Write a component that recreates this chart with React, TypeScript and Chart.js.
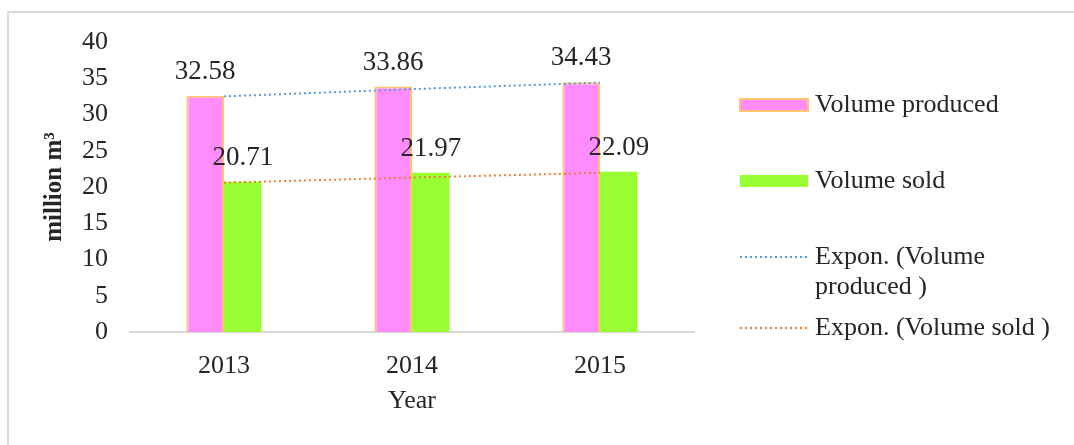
import { useEffect, useRef } from "react";
import { Chart, registerables } from "chart.js";

Chart.register(...registerables);

const categories = ["2013", "2014", "2015"];
const volumeProduced = [32.58, 33.86, 34.43];
const volumeSold = [20.71, 21.97, 22.09];
const trendProduced = [32.5, 33.5, 34.4];
const trendSold = [20.6, 21.3, 21.95];
const yMin = 0;
const yMax = 40;
const yStep = 5;
const legendLabels = [
  ["Volume produced"],
  ["Volume sold"],
  ["Expon. (Volume", "produced )"],
  ["Expon. (Volume sold )"],
];

const SERIF = "'Liberation Serif', 'Times New Roman', serif";
const TEXT = "#262626";
const PINK = "#ff8cff";
const PINK_BORDER = "#ffc46e";
const GREEN = "#99ff33";
const BLUE = "#5b9bd5";
const ORANGE = "#ed7d31";

const valueLabels = {
  id: "valueLabels",
  afterDatasetsDraw(chart: any) {
    const ctx = chart.ctx;
    ctx.save();
    ctx.font = `27px ${SERIF}`;
    ctx.fillStyle = TEXT;
    ctx.textAlign = "center";
    ctx.textBaseline = "middle";
    [0, 1].forEach((di) => {
      const meta = chart.getDatasetMeta(di);
      const data = chart.data.datasets[di].data as number[];
      meta.data.forEach((el: any, i: number) => {
        ctx.fillText(data[i].toFixed(2), el.x, el.y - 24);
      });
    });
    ctx.restore();
  },
};

const customLegend = {
  id: "customLegend",
  afterDraw(chart: any) {
    const ctx = chart.ctx;
    ctx.save();
    const bx = 740;
    const bw = 68;
    const tx = 815;
    const ys = [105, 181, 257, 328];
    ctx.font = `26px ${SERIF}`;
    ctx.fillStyle = TEXT;
    ctx.textAlign = "left";
    ctx.textBaseline = "middle";
    legendLabels.forEach((lines, i) => {
      const y = ys[i];
      ctx.save();
      if (i === 0) {
        ctx.fillStyle = PINK;
        ctx.fillRect(bx, y - 6, bw, 12);
        ctx.strokeStyle = PINK_BORDER;
        ctx.lineWidth = 2;
        ctx.strokeRect(bx, y - 6, bw, 12);
      } else if (i === 1) {
        ctx.fillStyle = GREEN;
        ctx.fillRect(bx, y - 6, bw, 12);
      } else {
        ctx.strokeStyle = i === 2 ? BLUE : ORANGE;
        ctx.lineWidth = 2;
        ctx.setLineDash([2, 3]);
        ctx.beginPath();
        ctx.moveTo(bx, y);
        ctx.lineTo(bx + bw, y);
        ctx.stroke();
      }
      ctx.restore();
      lines.forEach((t, li) => {
        ctx.fillText(t, tx, y + li * 30);
      });
    });
    ctx.restore();
  },
};

export default function App() {
  const ref = useRef<HTMLCanvasElement | null>(null);

  useEffect(() => {
    if (!ref.current) return;
    const chart = new Chart(ref.current, {
      type: "bar",
      data: {
        labels: categories,
        datasets: [
          {
            type: "bar",
            label: "Volume produced",
            data: volumeProduced,
            backgroundColor: PINK,
            borderColor: PINK_BORDER,
            borderWidth: 2,
            categoryPercentage: 0.4,
            barPercentage: 1.0,
            order: 1,
          },
          {
            type: "bar",
            label: "Volume sold",
            data: volumeSold,
            backgroundColor: GREEN,
            borderWidth: 0,
            categoryPercentage: 0.4,
            barPercentage: 1.0,
            order: 1,
          },
          {
            type: "line",
            label: "Expon. (Volume produced )",
            data: trendProduced,
            borderColor: BLUE,
            borderWidth: 2,
            borderDash: [2, 3],
            pointRadius: 0,
            fill: false,
            order: 0,
          } as any,
          {
            type: "line",
            label: "Expon. (Volume sold )",
            data: trendSold,
            borderColor: ORANGE,
            borderWidth: 2,
            borderDash: [2, 3],
            pointRadius: 0,
            fill: false,
            order: 0,
          } as any,
        ],
      },
      options: {
        animation: false,
        responsive: false,
        maintainAspectRatio: false,
        layout: { padding: { left: 0, right: 380, top: 42, bottom: 0 } },
        plugins: {
          legend: { display: false },
          tooltip: { enabled: false },
        },
        scales: {
          x: {
            grid: { display: false },
            border: { display: true, color: "#d9d9d9", width: 2 },
            ticks: { color: TEXT, font: { family: SERIF, size: 26 }, padding: 11 },
            title: {
              display: true,
              text: "Year",
              color: TEXT,
              font: { family: SERIF, size: 26 },
              padding: { top: 0, bottom: 28 },
            },
            afterFit(scale: any) {
              scale.height = 113;
            },
          },
          y: {
            min: yMin,
            max: yMax,
            grid: { display: false },
            border: { display: false },
            ticks: {
              stepSize: yStep,
              color: TEXT,
              font: { family: SERIF, size: 26 },
              padding: 14,
            },
            title: {
              display: true,
              text: "million m³",
              color: TEXT,
              font: { family: SERIF, size: 25, weight: "bold" },
              padding: { top: 40, bottom: 0 },
            },
            afterFit(scale: any) {
              scale.width = 130;
            },
          },
        },
      },
      plugins: [valueLabels, customLegend],
    });
    return () => chart.destroy();
  }, []);

  return (
    <>
      <div
        style={{
          position: "fixed",
          left: 7,
          top: 11,
          right: 0,
          bottom: 0,
          borderTop: "2px solid #d9d9d9",
          borderLeft: "2px solid #d9d9d9",
          background: "#fff",
        }}
      />
      <div style={{ position: "fixed", left: 0, top: 0, width: 1074, height: 445 }}>
        <canvas ref={ref} width={1074} height={445} style={{ width: 1074, height: 445, display: "block" }} />
      </div>
    </>
  );
}
